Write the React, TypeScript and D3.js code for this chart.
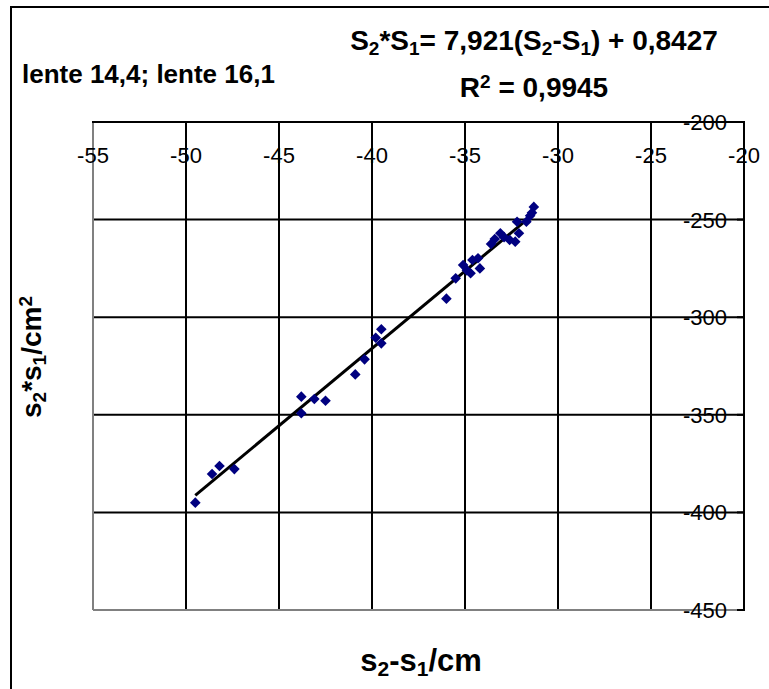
import React, { useEffect, useRef } from 'react';
import * as d3 from 'd3';

// s2 - s1 (cm) and s2 * s1 (cm^2)
const diffValues = [
  -49.5, -48.6, -48.2, -47.4, -43.8, -43.1, -42.5, -43.8, -40.9, -40.4,
  -39.8, -39.5, -39.5, -36.0, -35.5, -35.1, -34.6, -34.7, -34.2, -34.3,
  -34.9, -33.6, -33.1, -32.6, -32.3, -32.1, -32.2, -31.7, -31.5, -31.3,
  -31.4, -32.9, -33.4,
];
const prodValues = [
  -395.0, -380.3, -376.2, -377.8, -340.7, -341.9, -342.8, -349.2, -329.3, -321.6,
  -310.5, -306.2, -313.4, -290.5, -280.1, -273.3, -270.7, -277.5, -275.0, -269.8,
  -276.0, -262.5, -257.0, -260.4, -261.3, -257.0, -251.1, -251.1, -248.0, -243.5,
  -246.5, -259.0, -260.0,
];
const xTicks = [-55, -50, -45, -40, -35, -30, -25, -20];
const yTicks = [-200, -250, -300, -350, -400, -450];
const slope = 7.921;
const intercept = 0.8427;

const FONT = '"Liberation Sans", Arial, sans-serif';

function Chart() {
  const svgRef = useRef<SVGSVGElement>(null);

  useEffect(() => {
    const svg = d3.select(svgRef.current);
    svg.selectAll('*').remove();

    const left = 93, right = 744, top = 122, bottom = 610;
    const x = d3.scaleLinear().domain([-55, -20]).range([left, right]);
    const y = d3.scaleLinear().domain([-450, -200]).range([bottom, top]);

    // outer frame
    svg.append('rect')
      .attr('x', 11).attr('y', 7)
      .attr('width', 820).attr('height', 720)
      .attr('fill', 'white').attr('stroke', 'black').attr('stroke-width', 2);

    const g = svg.append('g');

    // gridlines
    g.selectAll('.vgrid')
      .data(xTicks.slice(1, -1))
      .enter().append('line')
      .attr('x1', d => x(d)).attr('x2', d => x(d))
      .attr('y1', top).attr('y2', bottom)
      .attr('stroke', 'black').attr('stroke-width', 2);

    g.selectAll('.hgrid')
      .data(yTicks.slice(1, -1))
      .enter().append('line')
      .attr('x1', left).attr('x2', right)
      .attr('y1', d => y(d)).attr('y2', d => y(d))
      .attr('stroke', 'black').attr('stroke-width', 2);

    // plot border: left and bottom grey
    g.append('line')
      .attr('x1', left).attr('x2', left).attr('y1', top).attr('y2', bottom)
      .attr('stroke', '#808080').attr('stroke-width', 2);
    g.append('line')
      .attr('x1', left).attr('x2', right).attr('y1', bottom).attr('y2', bottom)
      .attr('stroke', '#808080').attr('stroke-width', 2);

    // axes: x on top, y on the right
    g.append('line')
      .attr('x1', left - 1).attr('x2', right + 1).attr('y1', top).attr('y2', top)
      .attr('stroke', 'black').attr('stroke-width', 2);
    g.append('line')
      .attr('x1', right).attr('x2', right).attr('y1', top).attr('y2', bottom + 1)
      .attr('stroke', 'black').attr('stroke-width', 2);

    g.selectAll('.ytick')
      .data(yTicks)
      .enter().append('line')
      .attr('x1', right - 7).attr('x2', right)
      .attr('y1', d => y(d)).attr('y2', d => y(d))
      .attr('stroke', 'black').attr('stroke-width', 2);

    g.selectAll('.xlabel')
      .data(xTicks)
      .enter().append('text')
      .attr('x', d => x(d)).attr('y', top + 41)
      .attr('text-anchor', 'middle')
      .style('font-family', FONT).style('font-size', '22px')
      .text(d => d);

    g.selectAll('.ylabel')
      .data(yTicks)
      .enter().append('text')
      .attr('x', right - 17).attr('y', d => y(d) + 8)
      .attr('text-anchor', 'end')
      .style('font-family', FONT).style('font-size', '22px')
      .text(d => d);

    // regression line
    const [xmin, xmax] = d3.extent(diffValues) as [number, number];
    g.append('line')
      .attr('x1', x(xmin)).attr('y1', y(slope * xmin + intercept))
      .attr('x2', x(xmax)).attr('y2', y(slope * xmax + intercept))
      .attr('stroke', 'black').attr('stroke-width', 3);

    // markers
    const pts = diffValues.map((d, i) => [d, prodValues[i]]);
    g.selectAll('.pt')
      .data(pts)
      .enter().append('path')
      .attr('d', d3.symbol().type(d3.symbolDiamond2).size(72)())
      .attr('transform', d => `translate(${x(d[0])},${y(d[1])})`)
      .attr('fill', '#000080');

    // texts
    const bold = (sel: any, size: number) =>
      sel.style('font-family', FONT).style('font-weight', 'bold').style('font-size', `${size}px`);

    bold(svg.append('text').attr('x', 22).attr('y', 83), 26).text('lente 14,4; lente 16,1');

    const eq = bold(svg.append('text').attr('x', 534).attr('y', 50).attr('text-anchor', 'middle'), 28);
    const parts: [string, boolean][] = [
      ['S', false], ['2', true], ['*S', false], ['1', true], ['= 7,921(S', false],
      ['2', true], ['-S', false], ['1', true], [') + 0,8427', false],
    ];
    parts.forEach(([t, sub]) => {
      eq.append('tspan')
        .attr('baseline-shift', sub ? '-25%' : null)
        .style('font-size', sub ? '19px' : null)
        .text(t);
    });

    const r2 = bold(svg.append('text').attr('x', 534).attr('y', 97).attr('text-anchor', 'middle'), 28);
    r2.append('tspan').text('R');
    r2.append('tspan').attr('baseline-shift', '45%').style('font-size', '19px').text('2');
    r2.append('tspan').text(' = 0,9945');

    const xt = bold(svg.append('text').attr('x', 421).attr('y', 671).attr('text-anchor', 'middle'), 31);
    [['s', false], ['2', true], ['-s', false], ['1', true], ['/cm', false]].forEach(([t, sub]) => {
      xt.append('tspan')
        .attr('baseline-shift', sub ? '-25%' : null)
        .style('font-size', sub ? '21px' : null)
        .text(t as string);
    });

    const yt = bold(svg.append('text')
      .attr('transform', 'translate(41,357) rotate(-90)')
      .attr('text-anchor', 'middle'), 28);
    [['s', ''], ['2', 'sub'], ['*s', ''], ['1', 'sub'], ['/cm', ''], ['2', 'sup']].forEach(([t, k]) => {
      const ts = yt.append('tspan').text(t);
      if (k === 'sub') ts.attr('baseline-shift', '-25%').style('font-size', '19px');
      if (k === 'sup') ts.attr('baseline-shift', '45%').style('font-size', '19px');
    });
  }, []);

  return <svg ref={svgRef} width={769} height={689} style={{ position: 'absolute', left: 0, top: 0 }} />;
}

export default function App() {
  return <Chart />;
}
